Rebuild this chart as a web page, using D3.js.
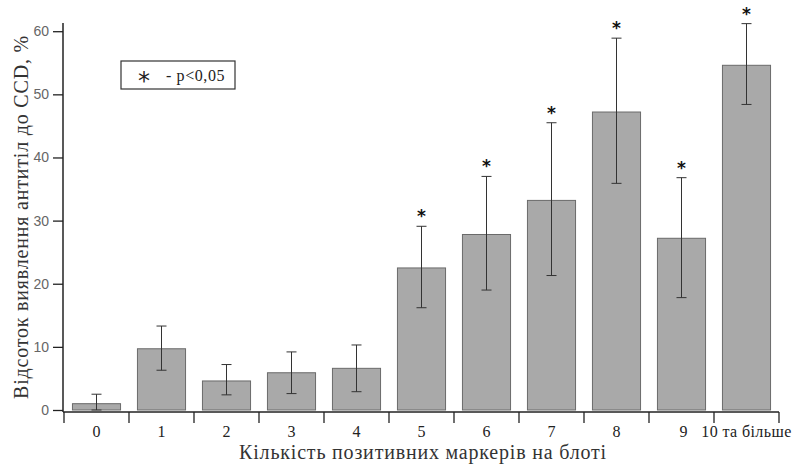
<!DOCTYPE html>
<html><head><meta charset="utf-8">
<script src="https://cdn.jsdelivr.net/npm/d3@7"></script>
<style>body{margin:0;background:#fff}svg{display:block}</style>
</head><body>
<svg id="c" width="795" height="466"></svg>
<script>
const categories = ["0","1","2","3","4","5","6","7","8","9","10 та більше"];
const values     = [1.0, 9.7, 4.6, 5.9, 6.6, 22.5, 27.8, 33.2, 47.2, 27.2, 54.6];
const errUpper   = [2.5, 13.3, 7.2, 9.2, 10.3, 29.1, 37.0, 45.5, 58.9, 36.8, 61.2];
const errLower   = [0.0, 6.3, 2.4, 2.6, 2.9, 16.2, 19.0, 21.3, 35.9, 17.8, 48.4];
const significant= [false,false,false,false,false,true,true,true,true,true,true];
const yTicks     = [0,10,20,30,40,50,60];

const svg = d3.select("#c");
const x = d3.scaleBand().domain(categories).range([64, 779]).paddingInner(0.26).paddingOuter(0.13);
const y = d3.scaleLinear().domain([0, 61.3]).range([410, 23]);

// bars
svg.selectAll("rect.bar").data(values).join("rect")
  .attr("x", (d,i)=>x(categories[i]))
  .attr("y", d=>y(d))
  .attr("width", x.bandwidth())
  .attr("height", d=>y(0)-y(d))
  .attr("fill", "#a9a9a9").attr("stroke", "#6a6a6a").attr("stroke-width", 1);

// error bars
const cx = i => x(categories[i]) + x.bandwidth()/2;
const eb = svg.append("g").attr("stroke", "#333").attr("stroke-width", 1);
categories.forEach((c,i)=>{
  eb.append("line").attr("x1",cx(i)).attr("x2",cx(i)).attr("y1",y(errLower[i])).attr("y2",y(errUpper[i]));
  [errLower[i], errUpper[i]].forEach(v=>{
    eb.append("line").attr("x1",cx(i)-5).attr("x2",cx(i)+5).attr("y1",y(v)).attr("y2",y(v));
  });
});

// stars
svg.selectAll("text.star").data(categories.filter((c,i)=>significant[i])).join("text")
  .attr("x", c=>cx(categories.indexOf(c)))
  .attr("y", c=>y(errUpper[categories.indexOf(c)]) - 4)
  .attr("text-anchor","middle")
  .attr("font-family","DejaVu Sans").attr("font-size", 17).attr("font-weight","bold")
  .attr("fill","#111").text("*");

// y axis
const yAxis = d3.axisLeft(y).tickValues(yTicks).tickSize(10).tickSizeOuter(0);
const gy = svg.append("g").attr("transform","translate(63,0)").call(yAxis);
gy.select(".domain").attr("stroke","#222").attr("stroke-width",1.5).attr("d","M0,23V412");
gy.selectAll(".tick line").attr("stroke","#222").attr("stroke-width",1.3);
gy.selectAll(".tick text").attr("font-family","Liberation Sans").attr("font-size",14).attr("fill","#666").attr("x",-14);

// x axis
const gx = svg.append("g").attr("transform","translate(0,412)");
gx.append("line").attr("x1",63).attr("x2",779).attr("y1",0).attr("y2",0).attr("stroke","#222").attr("stroke-width",1.5);
const bounds = categories.map(c=>x(c) - x.step()*x.paddingInner()/2).concat([779]);
bounds[0] = 64;
gx.selectAll("line.tk").data(bounds).join("line")
  .attr("x1",d=>d).attr("x2",d=>d).attr("y1",0).attr("y2",11)
  .attr("stroke","#222").attr("stroke-width",1.3);
gx.selectAll("text.lbl").data(categories).join("text")
  .attr("x",(c,i)=> cx(i) + (i===9 ? 2 : 0))
  .attr("y",25)
  .attr("text-anchor","middle")
  .attr("font-family","Liberation Serif").attr("font-size",16).attr("fill","#222")
  .attr("letter-spacing", (c,i)=> i===10 ? 0.4 : 0)
  .text(c=>c);

// axis titles
svg.append("text").attr("x",423).attr("y",459).attr("text-anchor","middle")
  .attr("font-family","Liberation Serif").attr("font-size",20).attr("fill","#333")
  .attr("letter-spacing",0.8)
  .text("Кількість позитивних маркерів на блоті");
svg.append("text").attr("transform","translate(28,217) rotate(-90)").attr("text-anchor","middle")
  .attr("font-family","Liberation Serif").attr("font-size",20).attr("fill","#333")
  .attr("letter-spacing",0.8)
  .text("Відсоток виявлення антитіл до CCD, %");

// legend
svg.append("rect").attr("x",121).attr("y",61).attr("width",114).attr("height",28)
  .attr("fill","#fff").attr("stroke","#333").attr("stroke-width",1.2);
svg.append("text").attr("x",144).attr("y",89).attr("text-anchor","middle")
  .attr("font-family","DejaVu Sans").attr("font-size",24).attr("fill","#222").text("*");
svg.append("text").attr("x",166).attr("y",81)
  .attr("font-family","Liberation Serif").attr("font-size",16).attr("fill","#222")
  .attr("letter-spacing",0.6).text("- p<0,05");
</script>
</body></html>
